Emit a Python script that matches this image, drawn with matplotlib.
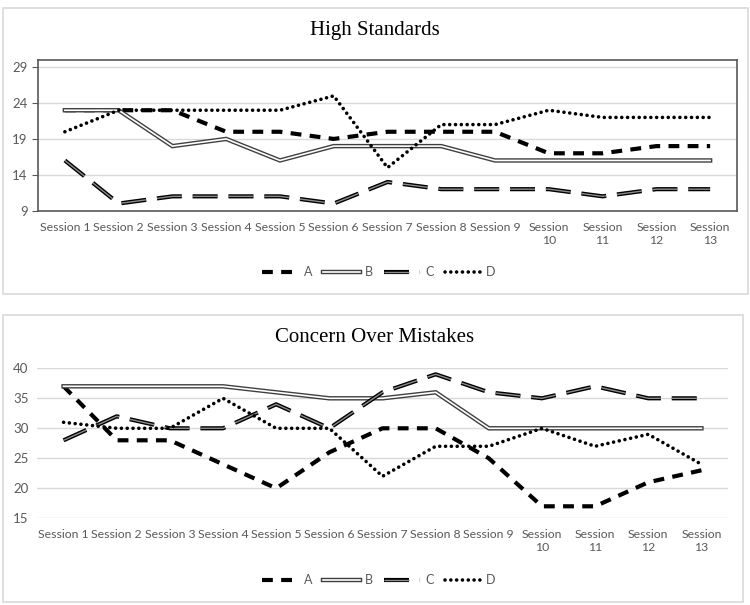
import numpy as np
import matplotlib.pyplot as plt
from matplotlib.patches import Rectangle

sessions = ['Session 1', 'Session 2', 'Session 3', 'Session 4', 'Session 5', 'Session 6',
            'Session 7', 'Session 8', 'Session 9', 'Session\n10', 'Session\n11',
            'Session\n12', 'Session\n13']

# High Standards
hs_a = [23, 23, 23, 20, 20, 19, 20, 20, 20, 17, 17, 18, 18]
hs_b = [23, 23, 18, 19, 16, 18, 18, 18, 16, 16, 16, 16, 16]
hs_c = [16, 10, 11, 11, 11, 10, 13, 12, 12, 12, 11, 12, 12]
hs_d = [20, 23, 23, 23, 23, 25, 15, 21, 21, 23, 22, 22, 22]

# Concern Over Mistakes
com_a = [37, 28, 28, 24, 20, 26, 30, 30, 25, 17, 17, 21, 23]
com_b = [37, 37, 37, 37, 36, 35, 35, 36, 30, 30, 30, 30, 30]
com_c = [28, 32, 30, 30, 34, 30, 36, 39, 36, 35, 37, 35, 35]
com_d = [31, 30, 30, 35, 30, 30, 22, 27, 27, 30, 27, 29, 24]

tick_col = '#595959'
plt.rcParams['font.family'] = ['Lato', 'DejaVu Sans']

fig = plt.figure(figsize=(7.5, 6.05), dpi=100)
W, H = 750, 605


def px_rect(x0, y0, x1, y1):
    return [x0 / W, 1 - y1 / H, (x1 - x0) / W, (y1 - y0) / H]


# rammer rundt hvert diagram
for (x0, y0, x1, y1) in [(3, 8, 748, 294), (3, 315, 743, 602)]:
    fig.patches.append(Rectangle((x0 / W, 1 - y1 / H), (x1 - x0) / W, (y1 - y0) / H,
                                 transform=fig.transFigure, fill=False,
                                 edgecolor='#d9d9d9', lw=1.2))


def draw(ax, a, b, c, d):
    x = np.arange(len(sessions))
    la, = ax.plot(x, a, color='black', lw=3, dashes=(2.6, 2.0), dash_capstyle='butt')
    lb1, = ax.plot(x, b, color='#404040', lw=3.2, solid_joinstyle='miter')
    lb2, = ax.plot(x, b, color='white', lw=1.2, solid_joinstyle='miter')
    lc1, = ax.plot(x, c, color='black', lw=3, dashes=(6, 2.6), dash_capstyle='butt')
    lc2, = ax.plot(x, c, color='#8c8c8c', lw=1, dashes=(18, 7.8), dash_capstyle='butt')
    ld, = ax.plot(x, d, color='black', lw=2.6, linestyle=(0, (0.01, 1.6)),
                  dash_capstyle='round')
    ax.set_xlim(-0.5, len(sessions) - 0.5)
    ax.set_xticks(x)
    ax.set_xticklabels(sessions, fontsize=8.8, color=tick_col)
    ax.tick_params(axis='x', length=0, pad=8)
    ax.grid(axis='y', color='#d9d9d9', lw=1)
    ax.set_axisbelow(True)
    return [la, (lb1, lb2), (lc1, lc2), ld]


def legend(ax, handles, y):
    leg = ax.legend(handles, ['A', 'B', 'C', 'D'], ncol=4, frameon=False, loc='center',
                    bbox_to_anchor=(379 / W, 1 - y / H), bbox_transform=fig.transFigure,
                    fontsize=9, handlelength=2.9, columnspacing=0.9, handletextpad=0.4)
    for t in leg.get_texts():
        t.set_color(tick_col)


# topp diagram
ax1 = fig.add_axes(px_rect(38, 60, 737, 210.7))
h1 = draw(ax1, hs_a, hs_b, hs_c, hs_d)
ax1.set_ylim(9, 30)
ax1.set_yticks([9, 14, 19, 24, 29])
ax1.tick_params(axis='y', labelsize=9.5, labelcolor=tick_col, length=4, color='#595959')
for s in ax1.spines.values():
    s.set_color('#595959')
    s.set_linewidth(1.2)
fig.text(0.5, 1 - 31 / H, 'High Standards', ha='center', va='center',
         family='Liberation Serif', fontsize=15)
legend(ax1, h1, 272)

# bunn diagram
ax2 = fig.add_axes(px_rect(37, 368.3, 728, 518.3))
h2 = draw(ax2, com_a, com_b, com_c, com_d)
ax2.set_ylim(15, 40)
ax2.set_yticks([15, 20, 25, 30, 35, 40])
ax2.tick_params(axis='y', labelsize=9.5, labelcolor=tick_col, length=0, pad=6)
for s in ax2.spines.values():
    s.set_visible(False)
fig.text(0.5, 1 - 338 / H, 'Concern Over Mistakes', ha='center', va='center',
         family='Liberation Serif', fontsize=15)
legend(ax2, h2, 580)

fig.savefig('out.png', dpi=100)
